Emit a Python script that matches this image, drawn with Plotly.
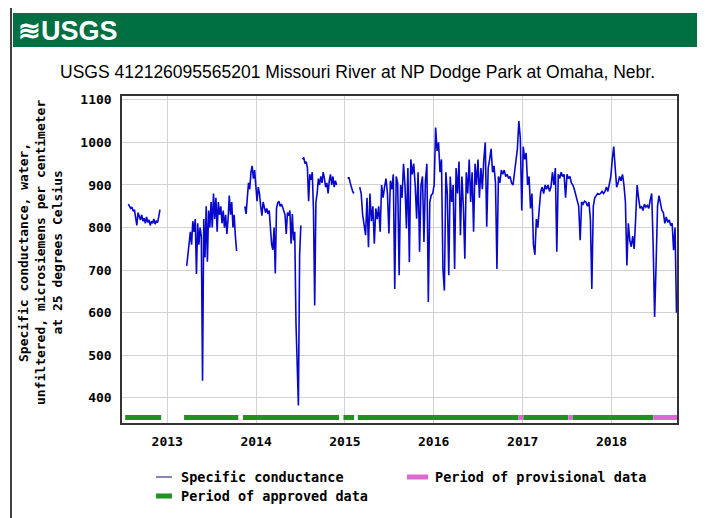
import pandas as pd
import plotly.graph_objects as go

# ---------------- data ----------------
SEG1_START, SEG1_STEP = "2012-07-25", 5
SEG1 = [855, 850, 845, 848, 838, 842, 825, 805, 835, 828, 818, 830, 815, 822, 810,
        825, 812, 818, 805, 815, 810, 820, 808, 815, 812, 825, 842]

SEG2_START, SEG2_STEP = "2013-03-22", 5
SEG2 = [710, 740, 770, 790, 760, 815, 790, 820, 691, 810, 760, 800, 780, 440, 820,
        730, 850, 720, 840, 800, 860, 800, 880, 820, 870, 790, 860, 830, 850, 810,
        840, 800, 830, 785, 820, 875, 830, 860, 800, 830, 780, 745]

SEG3_START, SEG3_STEP = "2013-11-16", 5
SEG3 = [850, 832, 870, 905, 890, 930, 945, 915, 935, 900, 862, 895, 880, 850, 828,
        860, 842, 835, 845, 832, 840, 800, 760, 748, 800, 692, 845, 858, 862, 850,
        855, 848, 838, 830, 785, 835, 828, 840, 762, 832, 770, 790, 577, 495, 382,
        735, 805]

SEG4_START, SEG4_STEP = "2014-07-11", 5
SEG4 = [960, 965, 950, 955, 940, 862, 925, 912, 930, 840, 617, 860, 880, 915, 900,
        920, 905, 930, 915, 895, 905, 880, 910, 925, 900, 920, 895, 910, 900]

SEG5_START, SEG5_STEP = "2015-01-13", 5
SEG5 = [915, 918, 905, 892, 885, 880]

SEG6_START, SEG6_STEP = "2015-03-03", 6
SEG6 = [895, 880, 830, 800, 782, 870, 754, 880, 815, 850, 762, 845, 820, 850, 790,
        900, 870, 895, 915, 880, 786, 910, 890, 925, 656, 920, 905,
        688, 900, 870, 950, 900, 798, 940, 719, 960, 925, 950, 900, 821, 930, 743,
        900, 920, 766, 910, 950, 625, 860, 876, 880, 900, 1035, 980, 1000, 930, 960,
        703, 652, 930, 880, 688, 920, 860, 900, 703, 940, 880, 955, 782, 920, 850,
        727, 930, 880, 960, 860, 930, 790, 950, 900, 960, 870, 940, 890, 960, 1000,
        802, 940,
        960, 985, 930, 945, 905, 703, 920, 905, 935, 925, 935, 920, 925, 915, 920,
        905, 900, 930, 960, 985, 1050, 1010, 840, 990, 960, 975, 900, 920, 845, 880,
        760, 736, 820, 800, 845, 885, 895, 880, 900, 890, 900, 885, 895, 930, 900,
        940, 743, 925, 915, 930, 920, 925, 870, 925, 915, 920, 905, 900, 890, 875,
        860, 850, 770,
        860, 855, 862, 860, 850, 860, 820, 656, 850, 870, 875, 880, 878, 880, 885,
        880, 885, 895, 885, 905, 920, 960, 990, 940, 895, 905, 920, 910, 925, 900,
        860, 711, 810, 770, 755, 780, 750, 820, 900, 870, 845, 850, 840, 855, 848,
        852, 845, 865, 880, 760, 590, 711, 850, 875, 860, 840, 835, 810, 825, 812,
        818, 805, 810, 747, 800, 600]

APPROVED = [("2012-07-12", "2012-12-07"), ("2013-03-11", "2013-10-20"),
            ("2013-11-08", "2014-12-08"), ("2014-12-26", "2015-02-08"),
            ("2015-02-23", "2016-12-15"), ("2017-01-03", "2017-07-07"),
            ("2017-07-24", "2018-06-22")]
PROVISIONAL = [("2016-12-15", "2017-01-03"), ("2017-07-07", "2017-07-24"),
               ("2018-06-22", "2018-09-27")]

Y_TICKS = [400, 500, 600, 700, 800, 900, 1000, 1100]
X_TICKS = ["2013-01-01", "2014-01-01", "2015-01-01", "2016-01-01", "2017-01-01", "2018-01-01"]
X_LABELS = ["2013", "2014", "2015", "2016", "2017", "2018"]

TITLE = "USGS 412126095565201 Missouri River at NP Dodge Park at Omaha, Nebr."
YTITLE = ("Specific conductance, water,<br>unfiltered, microsiemens per centimeter"
          "<br>at 25 degrees Celsius")

# ---------------- build series ----------------
segments = [(SEG1_START, SEG1_STEP, SEG1), (SEG2_START, SEG2_STEP, SEG2),
            (SEG3_START, SEG3_STEP, SEG3), (SEG4_START, SEG4_STEP, SEG4),
            (SEG5_START, SEG5_STEP, SEG5), (SEG6_START, SEG6_STEP, SEG6)]
xs, ys = [], []
for start, step, vals in segments:
    d = pd.date_range(start, periods=len(vals), freq=f"{step}D")
    xs += list(d.strftime("%Y-%m-%d")) + [None]
    ys += list(vals) + [None]

BAR_Y = 354


def periods(lst):
    px_, py_ = [], []
    for a, b in lst:
        px_ += [a, b, None]
        py_ += [BAR_Y, BAR_Y, None]
    return px_, py_


LINE_C = "#0808cc"
GREEN_C = "#229022"
PINK_C = "#dc68d4"
MONO = "DejaVu Sans Mono"
SANS = "Liberation Sans, Arial, sans-serif"

fig = go.Figure()
ax, ay = periods(APPROVED)
fig.add_trace(go.Scatter(x=ax, y=ay, mode="lines", line=dict(color=GREEN_C, width=5),
                         showlegend=False, hoverinfo="skip"))
bx, by = periods(PROVISIONAL)
fig.add_trace(go.Scatter(x=bx, y=by, mode="lines", line=dict(color=PINK_C, width=5),
                         showlegend=False, hoverinfo="skip"))
fig.add_trace(go.Scatter(x=xs, y=ys, mode="lines", connectgaps=False,
                         line=dict(color=LINE_C, width=1.6), showlegend=False))

# ---------------- layout helpers (reference pixel -> paper) ----------------
OFF = 8                      # page body margin
W, H = 705 - OFF, 518 - OFF
PL, PR, PT, PB = 122, 677, 96, 423   # plot box in reference pixels


def fx(x):
    return (x - PL) / (PR - PL)


def fy(y):
    return (PB - y) / (PB - PT)


shapes = [
    dict(type="rect", xref="paper", yref="paper", x0=fx(13), x1=fx(698), y0=fy(47), y1=fy(13),
         fillcolor="#006f41", line=dict(width=0), layer="below"),
    dict(type="line", xref="paper", yref="paper", x0=fx(11), x1=fx(11), y0=fy(8), y1=fy(530),
         line=dict(color="black", width=1.5)),
    dict(type="line", xref="paper", yref="paper", x0=fx(701), x1=fx(701), y0=fy(8), y1=fy(530),
         line=dict(color="black", width=1.5)),
    dict(type="line", xref="paper", yref="paper", x0=fx(156), x1=fx(172), y0=fy(477), y1=fy(477),
         line=dict(color="#3a3a88", width=1.2)),
    dict(type="line", xref="paper", yref="paper", x0=fx(407), x1=fx(428), y0=fy(477), y1=fy(477),
         line=dict(color=PINK_C, width=5)),
    dict(type="line", xref="paper", yref="paper", x0=fx(156), x1=fx(172), y0=fy(496), y1=fy(496),
         line=dict(color=GREEN_C, width=5)),
]

annotations = [
    dict(text="<b>≋USGS</b>", xref="paper", yref="paper", x=fx(16), y=fy(31), xanchor="left",
         yanchor="middle", showarrow=False,
         font=dict(family=SANS, size=27, color="white")),
    dict(text=TITLE, xref="paper", yref="paper", x=fx(357), y=fy(72), xanchor="center",
         yanchor="middle", showarrow=False,
         font=dict(family=SANS, size=17.5, color="black")),
    dict(text=YTITLE, xref="paper", yref="paper", x=fx(40), y=fy(253), xanchor="center",
         yanchor="middle", showarrow=False, textangle=-90, align="center",
         font=dict(family=MONO, size=13, color="black", weight="bold")),
    dict(text="Specific conductance", xref="paper", yref="paper", x=fx(179), y=fy(477),
         xanchor="left", yanchor="middle", showarrow=False,
         font=dict(family=MONO, size=13.5, color="black", weight="bold")),
    dict(text="Period of provisional data", xref="paper", yref="paper", x=fx(433), y=fy(477),
         xanchor="left", yanchor="middle", showarrow=False,
         font=dict(family=MONO, size=13.5, color="black", weight="bold")),
    dict(text="Period of approved data", xref="paper", yref="paper", x=fx(179), y=fy(496),
         xanchor="left", yanchor="middle", showarrow=False,
         font=dict(family=MONO, size=13.5, color="black", weight="bold")),
]

fig.update_layout(
    width=W, height=H,
    margin=dict(l=PL - OFF, r=W - (PR - OFF), t=PT - OFF, b=H - (PB - OFF), pad=0),
    paper_bgcolor="white", plot_bgcolor="white",
    shapes=shapes, annotations=annotations,
    showlegend=False,
    xaxis=dict(type="date", range=["2012-06-29", "2018-09-27"], tickvals=X_TICKS,
               ticktext=X_LABELS, showgrid=True, gridcolor="#d2d2d2", gridwidth=1,
               showline=True, linecolor="#333333", linewidth=1.5, mirror=True,
               ticks="", zeroline=False, ticklabelstandoff=6,
               tickfont=dict(family=MONO, size=13, color="black", weight="bold")),
    yaxis=dict(range=[341, 1109], tickvals=Y_TICKS, showgrid=True, gridcolor="#d2d2d2",
               gridwidth=1, showline=True, linecolor="#333333", linewidth=1.5, mirror=True,
               ticks="", zeroline=False, ticklabelstandoff=6,
               tickfont=dict(family=MONO, size=13, color="black", weight="bold")),
)

fig.write_html("out.html")
